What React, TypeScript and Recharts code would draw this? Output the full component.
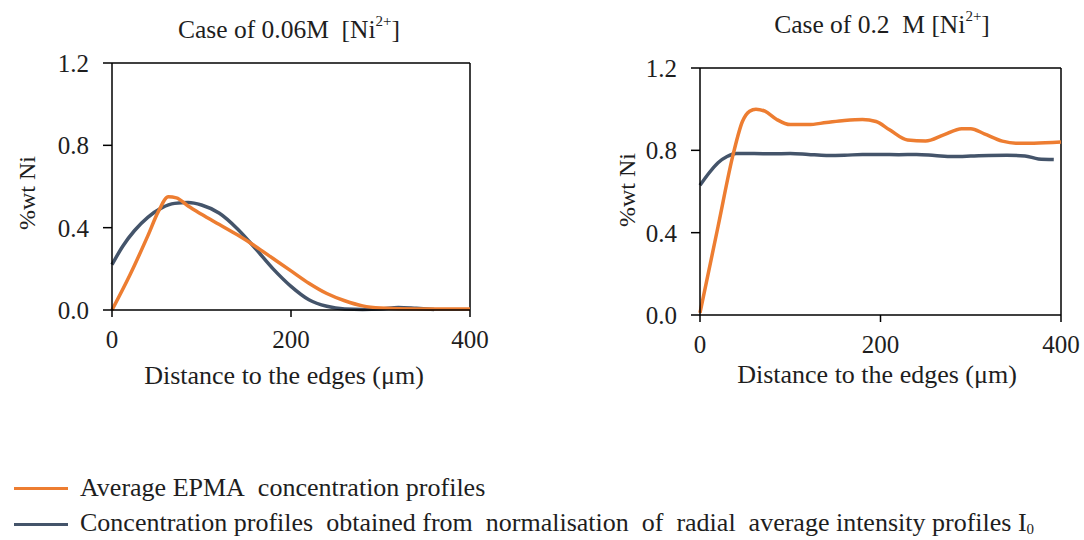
import React from 'react';
import { Line, LineChart, ReferenceLine, XAxis, YAxis } from 'recharts';

// 0.06M case
const lowEpmaX = [0, 20, 40, 52, 63, 72, 85, 100, 120, 140, 160, 180, 200, 220, 240, 260, 280, 300, 340, 400];
const lowEpmaY = [0, 0.17, 0.36, 0.48, 0.55, 0.545, 0.505, 0.465, 0.415, 0.365, 0.31, 0.25, 0.19, 0.13, 0.08, 0.045, 0.02, 0.01, 0.005, 0.005];
const lowNormX = [0, 12, 25, 40, 55, 70, 85, 100, 120, 140, 160, 180, 200, 220, 240, 260, 280, 300, 320, 340, 360];
const lowNormY = [0.22, 0.31, 0.385, 0.45, 0.495, 0.518, 0.522, 0.51, 0.47, 0.395, 0.3, 0.2, 0.115, 0.05, 0.018, 0.005, 0.003, 0.005, 0.012, 0.008, 0.003];

// 0.2 M case
const highEpmaX = [0, 20, 37, 47, 55, 62, 72, 85, 100, 120, 140, 160, 180, 195, 210, 230, 250, 270, 290, 300, 315, 335, 350, 370, 400];
const highEpmaY = [0.01, 0.43, 0.785, 0.94, 0.99, 1.0, 0.99, 0.95, 0.925, 0.925, 0.935, 0.945, 0.95, 0.94, 0.9, 0.85, 0.845, 0.875, 0.905, 0.905, 0.88, 0.845, 0.835, 0.835, 0.84];
const highNormX = [0, 10, 20, 30, 40, 60, 80, 100, 120, 140, 160, 180, 200, 220, 240, 260, 280, 300, 320, 340, 360, 375, 392];
const highNormY = [0.63, 0.69, 0.74, 0.77, 0.785, 0.785, 0.783, 0.785, 0.78, 0.775, 0.776, 0.78, 0.78, 0.779, 0.78, 0.775, 0.77, 0.772, 0.775, 0.776, 0.773, 0.758, 0.755];

const xTicks = [0, 200, 400];
const yTicks = [0, 0.4, 0.8, 1.2];

const ORANGE = '#ED7D31';
const SLATE = '#44546A';
const INK = '#1e1e1e';
const FONT = '"Liberation Serif", "Times New Roman", serif';

const toPoints = (xs: number[], ys: number[]) => xs.map((x, i) => ({ x, y: ys[i] }));

function Panel({
  left,
  top,
  width,
  epma,
  norm,
}: {
  left: number;
  top: number;
  width: number;
  epma: { x: number; y: number }[];
  norm: { x: number; y: number }[];
}) {
  const tick = { fill: INK, fontSize: 25, fontFamily: FONT };
  return (
    <div style={{ position: 'absolute', left, top }}>
      <LineChart width={width} height={400} margin={{ top: 63, right: 30, left: 0, bottom: 30 }}>
        <XAxis
          type="number"
          dataKey="x"
          domain={[0, 400]}
          ticks={xTicks}
          height={60}
          tickSize={7}
          tickMargin={13}
          tick={tick}
          axisLine={{ stroke: '#000', strokeWidth: 1.5 }}
          tickLine={{ stroke: '#000', strokeWidth: 1.5 }}
        />
        <YAxis
          type="number"
          domain={[0, 1.2]}
          ticks={yTicks}
          width={112}
          tickSize={9}
          tickMargin={14}
          tick={tick}
          tickFormatter={(v: number) => v.toFixed(1)}
          axisLine={{ stroke: '#000', strokeWidth: 1.5 }}
          tickLine={{ stroke: '#000', strokeWidth: 1.5 }}
        />
        <ReferenceLine y={1.2} stroke="#000" strokeWidth={1.5} />
        <ReferenceLine x={400} stroke="#000" strokeWidth={1.5} />
        <Line
          data={norm}
          dataKey="y"
          type="monotone"
          stroke={SLATE}
          strokeWidth={3.5}
          dot={false}
          isAnimationActive={false}
        />
        <Line
          data={epma}
          dataKey="y"
          type="monotone"
          stroke={ORANGE}
          strokeWidth={3.5}
          dot={false}
          isAnimationActive={false}
        />
      </LineChart>
    </div>
  );
}

function Text({ x, y, size = 26, children, rotate }: { x: number; y: number; size?: number; children: React.ReactNode; rotate?: boolean }) {
  return (
    <div
      style={{
        position: 'absolute',
        left: x,
        top: y,
        transform: `translate(-50%, -50%)${rotate ? ' rotate(-90deg)' : ''}`,
        whiteSpace: 'nowrap',
        fontSize: size,
        color: INK,
        lineHeight: 1,
      }}
    >
      {children}
    </div>
  );
}

const sup = { fontSize: 15, verticalAlign: 'top', position: 'relative' as const, top: -3 };
const legendRow = {
  position: 'absolute' as const,
  left: 14,
  fontSize: 26,
  lineHeight: '28px',
  color: INK,
  display: 'flex',
  alignItems: 'center',
  whiteSpace: 'nowrap' as const,
};

export default function App() {
  return (
    <div
      style={{
        position: 'absolute',
        left: 0,
        top: 0,
        width: 1084,
        height: 540,
        background: '#fff',
        fontFamily: FONT,
        overflow: 'hidden',
      }}
    >
      <Panel left={0} top={0} width={500} epma={toPoints(lowEpmaX, lowEpmaY)} norm={toPoints(lowNormX, lowNormY)} />
      <Panel left={588} top={5} width={503} epma={toPoints(highEpmaX, highEpmaY)} norm={toPoints(highNormX, highNormY)} />

      <Text x={289} y={30} size={25.5}>
        Case of 0.06M&nbsp; [Ni<span style={sup}>2+</span>]
      </Text>
      <Text x={882} y={25} size={25.5}>
        Case of 0.2&nbsp; M [Ni<span style={sup}>2+</span>]
      </Text>

      <Text x={27} y={193} size={24} rotate>%wt Ni</Text>
      <Text x={627} y={190} size={24} rotate>%wt Ni</Text>

      <Text x={284} y={376}>Distance to the edges (μm)</Text>
      <Text x={877} y={375}>Distance to the edges (μm)</Text>

      <div style={{ ...legendRow, top: 474 }}>
        <span style={{ display: 'inline-block', width: 54, height: 3, background: ORANGE, marginRight: 12 }} />
        Average EPMA&nbsp; concentration profiles
      </div>
      <div style={{ ...legendRow, top: 509 }}>
        <span style={{ display: 'inline-block', width: 54, height: 3, background: SLATE, marginRight: 12 }} />
        <span>
          Concentration profiles&nbsp; obtained from&nbsp; normalisation&nbsp; of&nbsp; radial&nbsp; average intensity profiles I
          <span style={{ fontSize: 15, position: 'relative', top: 3 }}>0</span>
        </span>
      </div>
    </div>
  );
}
